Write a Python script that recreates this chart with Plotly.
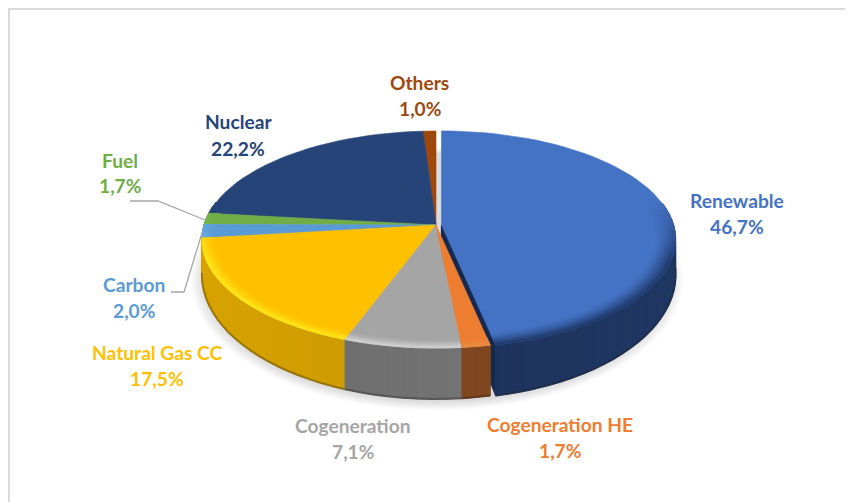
import math
import plotly.graph_objects as go

# ---- data ----
categories = ["Renewable", "Cogeneration HE", "Cogeneration", "Natural Gas CC", "Carbon", "Fuel", "Nuclear", "Others"]
values = [46.7, 1.7, 7.1, 17.5, 2.0, 1.7, 22.2, 1.0]
top_colors = ["#4472C4", "#ED7D31", "#A5A5A5", "#FFC000", "#5B9BD5", "#70AD47", "#264478", "#9E480E"]
rim_colors = ["#223D70", "#E98A45", "#CFCFCF", "#FFE41A", "#6FB4F2", "#80BD55", "#264478", "#9E480E"]
side_left = ["#1B3058", "#7A4420", "#6A6A6A", "#D8A300", "#3F6E98", "#4F7A32", "#1A3058", "#6E3208"]
side_right = ["#1F3763", "#83481F", "#7A7A7A", "#BE9000", "#3F6E98", "#4F7A32", "#1A3058", "#6E3208"]
label_colors = ["#4472C4", "#ED7D31", "#A5A5A5", "#FFC000", "#5B9BD5", "#70AD47", "#264478", "#9E480E"]
label_x = [737, 560, 353, 157, 134, 120, 238, 419.5]
label_y = [200, 424.5, 425.5, 352.5, 284.5, 160.5, 121.5, 82.5]
value_y = [226, 450.5, 451.5, 378.5, 310.5, 185.5, 148.5, 108.5]

# ---- projection of the tilted pie (page pixels) ----
CX, CY = 436.0, 225.0
F, G, K = 232.0, 106.6, 0.134
DEPTH_C, DEPTH_G = 33.0, 1.145
EXPLODE = 5.5


def mix(a, b, t):
    a = [int(a[i:i + 2], 16) for i in (1, 3, 5)]
    b = [int(b[i:i + 2], 16) for i in (1, 3, 5)]
    return "#%02x%02x%02x" % tuple(round(p + (q - p) * t) for p, q in zip(a, b))


def proj(theta, r=1.0, bottom=False, off=(0, 0)):
    X, Y = r * math.sin(theta), r * math.cos(theta)
    w = 1 + K * Y
    g = G * (DEPTH_G if bottom else 1)
    return (CX + off[0] + F * X / w, CY + off[1] + (DEPTH_C if bottom else 0) - g * Y / w)


fig = go.Figure()


def add_poly(pts, color, opacity=None, lw=1.2):
    xs = [p[0] for p in pts] + [pts[0][0]]
    ys = [p[1] for p in pts] + [pts[0][1]]
    fig.add_trace(go.Scatter(x=xs, y=ys, mode="lines", fill="toself", fillcolor=color,
                             line=dict(color=color, width=lw), hoverinfo="skip", showlegend=False,
                             opacity=opacity))


# soft shadow under the pie
for i in range(7):
    s = 1.05 - i * 0.008
    pts = [proj(2 * math.pi * a / 90, s, True, (1, 3)) for a in range(90)]
    add_poly(pts, "#000000", 0.02, 0)

total = sum(values)
spans = []
acc = 0.0
for v in values:
    spans.append((acc / total * 2 * math.pi, (acc + v) / total * 2 * math.pi))
    acc += v


def draw_slice(i):
    a0, a1 = spans[i]
    mid = (a0 + a1) / 2
    off = (EXPLODE * math.sin(mid), -0.2 * EXPLODE * math.cos(mid)) if i == 0 else (0, 0)
    n = max(2, int((a1 - a0) / math.radians(3)))
    angs = [a0 + (a1 - a0) * k / n for k in range(n + 1)]
    if i == 0:
        add_poly([proj(a1, 0, False, off), proj(a1, 1, False, off), proj(a1, 1, True, off), proj(a1, 0, True, off)],
                 "#16294D")
    # outer wall: one colour per angular step, dark lip along the bottom
    for a, b in zip(angs, angs[1:]):
        m = (a + b) / 2
        if math.cos(m) > 0.22:
            continue
        tx = (math.sin(m) + 1) / 2
        col = mix(side_left[i], side_right[i], tx)
        add_poly([proj(a, 1, False, off), proj(b, 1, False, off), proj(b, 1, True, off), proj(a, 1, True, off)], col)
    for a, b in zip(angs, angs[1:]):
        m = (a + b) / 2
        if math.cos(m) > 0.22:
            continue
        tx = (math.sin(m) + 1) / 2
        col = mix(side_left[i], side_right[i], tx)
        add_poly([proj(a, 1.0, True, off), proj(b, 1.0, True, off)], mix(col, "#222222", 0.35), None, 2.0)
    # top face
    add_poly([proj(0, 0, False, off)] + [proj(a, 1, False, off) for a in angs], top_colors[i], None, 0.6)
    # bevel on the top face
    inner = 0.92 if i == 0 else 0.945
    steps = 6
    rings = [inner + (1 - inner) * k / steps for k in range(steps + 1)]
    for a, b in zip(angs, angs[1:]):
        m = (a + b) / 2
        front = max(0.0, -math.cos(m) + 0.22) / 1.22
        if front <= 0:
            continue
        for j in range(steps):
            t = ((j + 1) / steps) ** 1.4 * min(1.0, front * 2.2)
            add_poly([proj(a, rings[j], False, off), proj(b, rings[j], False, off),
                      proj(b, rings[j + 1], False, off), proj(a, rings[j + 1], False, off)],
                     mix(top_colors[i], rim_colors[i], t), None, 0.8)


# pulled-out slice first so its neighbours overlap the cut face
for idx in [0, 7, 6, 5, 4, 3, 2, 1]:
    draw_slice(idx)

# leader lines
leader_x = [130, 158, 205, None, 171, 184, 202]
leader_y = [201, 201, 220, None, 292, 292, 233]
fig.add_trace(go.Scatter(x=leader_x, y=leader_y, mode="lines", line=dict(color="#A6A6A6", width=1.3),
                         hoverinfo="skip", showlegend=False))

# labels
FONT = "Lato, 'Open Sans', sans-serif"
for name, v, col, x, y, vy in zip(categories, values, label_colors, label_x, label_y, value_y):
    fig.add_annotation(x=x, y=y, text=f"<b>{name}</b>", showarrow=False, font=dict(family=FONT, size=19.2, color=col))
    fig.add_annotation(x=x, y=vy, text=f"<b>{v:.1f}%</b>".replace(".", ","), showarrow=False,
                       font=dict(family=FONT, size=19.2, color=col))

# frame of the picture
fig.add_shape(type="path", path="M 9 502 L 9 9 L 853 9", line=dict(color="#D9D9D9", width=2))

# the page body has an 8 px margin: the axes keep page-pixel coordinates
fig.update_layout(width=845, height=494, margin=dict(l=0, r=0, t=0, b=0), paper_bgcolor="white",
                  plot_bgcolor="white", showlegend=False,
                  xaxis=dict(range=[8, 853], visible=False, fixedrange=True),
                  yaxis=dict(range=[502, 8], visible=False, fixedrange=True))
fig.write_html("out.html")
